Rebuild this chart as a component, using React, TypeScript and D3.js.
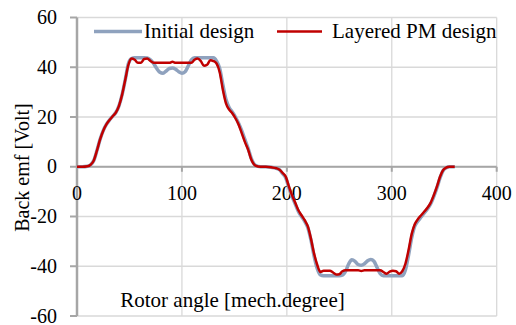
import React from "react";
import * as d3 from "d3";

const angles = [0,5,10,13,16,19,22,25,28,31,34,37,40,43,46,49,52,55,58,61,64,67,70,73,76,79,82,85,88,91,94,97,100,103,106,109,112,115,118,121,124,127,130,133,136,139,142,145,148,151,154,157,160,163,166,170,175,180,185,190,193,196,199,202,205,208,211,214,217,220,223,226,229,232,235,238,241,244,247,250,253,256,259,262,265,268,271,274,277,280,283,286,289,292,295,298,301,304,307,310,313,316,319,322,325,328,331,334,337,340,343,346,349,352,355,360];

const initialDesign = [0,0,0.2,0.8,2.5,6.5,11,14.5,17,18.8,20.3,21.8,24.5,29,35,41.5,43.5,43.8,43.8,43.8,43.8,43.7,43,41.5,39.5,38,37.6,38.5,39.5,39.7,39.2,38.2,37.6,38.2,40.5,43,43.8,43.8,43.8,43.8,43.8,43.8,43.8,42.5,39.5,33,27,23.8,22,20,17.5,14.5,11,7.5,3.5,0.6,0,0,-0.2,-0.6,-1.2,-2.8,-4.5,-8.5,-12,-15,-18,-20,-22,-24.5,-29.5,-36,-41,-43.5,-43.8,-43.8,-43.8,-43.8,-43.8,-43.8,-43.6,-42,-39,-37.4,-38,-39.3,-39.6,-39,-37.8,-37.3,-38,-40.5,-43,-43.8,-43.8,-43.8,-43.8,-43.8,-43.8,-43.8,-41.5,-35.5,-28.5,-23.8,-21.8,-20.2,-18.6,-17,-15,-12,-8.5,-4.5,-1.5,-0.4,0,0];

const layeredPM = [0,0,0.2,0.8,2.5,6.5,11,14.5,17,18.8,20.3,21.8,24.5,29,35,41,43.5,43,41.8,41.8,43.3,43.5,42.5,41.8,41.8,41.8,41.8,41.8,41.8,42.2,41.8,41.8,41.8,41.8,41.8,41.8,43,43.5,42.5,40.6,41,42.8,42.5,41.5,38,31,25.5,23,21.5,19.5,17,13.5,10,7,3,0.5,0,0,-0.2,-0.6,-1.2,-2.5,-4,-8,-11.5,-14.5,-17.5,-19.5,-21.5,-24,-29,-35,-39.5,-42.3,-41.8,-41.8,-41.8,-42.5,-43.3,-43.2,-42,-41.6,-41.6,-41.6,-41.6,-41.6,-41.9,-41.6,-41.6,-41.6,-41.6,-41.6,-41.6,-42.3,-43,-42.2,-41.8,-42,-43,-42,-39,-33.5,-27,-23,-21,-19.5,-18,-16.5,-14.5,-11.5,-8,-4,-1.3,-0.3,0,0];

const xTicks = [0, 100, 200, 300, 400];
const yTicks = [-60, -40, -20, 0, 20, 40, 60];
const seriesNames = ["Initial design", "Layered PM design"];
const xTitle = "Rotor angle [mech.degree]";
const yTitle = "Back emf [Volt]";

export default function App() {
  const W = 516, H = 325;
  const x = d3.scaleLinear().domain([0, 400]).range([77, 496.7]);
  const y = d3.scaleLinear().domain([-60, 60]).range([316, 17.5]);
  const ts = (size: number) => ({ fontFamily: '"Liberation Serif"', fontSize: size + "px" });

  const mk = (vals: number[]) =>
    d3.line<number>()
      .x((_, i) => x(angles[i]))
      .y((v) => y(v))
      .curve(d3.curveMonotoneX)(vals) || "";

  const gridColor = "#D9D9D9";
  const axisColor = "#A6A6A6";
  const blue = "#8FA2BE";
  const red = "#C00000";

  return (
    <svg width={W} height={H} style={{ position: "absolute", left: 0, top: 0, background: "#fff" }}>
      {yTicks.map((t) => (
        <line key={"gy" + t} x1={x(0)} x2={x(400)} y1={y(t)} y2={y(t)} stroke={gridColor} strokeWidth={1.3} />
      ))}
      {xTicks.filter((t) => t > 0).map((t) => (
        <line key={"gx" + t} x1={x(t)} x2={x(t)} y1={y(60)} y2={y(-60)} stroke={gridColor} strokeWidth={1.3} />
      ))}
      <line x1={x(0)} x2={x(400)} y1={y(0)} y2={y(0)} stroke={axisColor} strokeWidth={2} />
      {xTicks.map((t) => (
        <line key={"tx" + t} x1={x(t)} x2={x(t)} y1={y(0)} y2={y(0) + 5} stroke={axisColor} strokeWidth={2} />
      ))}
      <line x1={x(0)} x2={x(0)} y1={y(60)} y2={y(-60)} stroke={axisColor} strokeWidth={2.5} />
      {yTicks.map((t) => (
        <line key={"ty" + t} x1={x(0) - 7} x2={x(0)} y1={y(t)} y2={y(t)} stroke={axisColor} strokeWidth={2} />
      ))}
      {yTicks.map((t) => (
        <text key={"ly" + t} x={57} y={y(t) + 6.5} textAnchor="end" style={ts(20)}>
          {String(t)}
        </text>
      ))}
      {xTicks.map((t) => (
        <text key={"lx" + t} x={x(t)} y={200} textAnchor="middle" style={ts(20)}>
          {String(t)}
        </text>
      ))}
      <path d={mk(initialDesign)} fill="none" stroke={blue} strokeWidth={3.5} strokeLinejoin="round" />
      <path d={mk(layeredPM)} fill="none" stroke={red} strokeWidth={2.5} strokeLinejoin="round" />
      <text x={232.5} y={307} textAnchor="middle" style={ts(21)}>{xTitle}</text>
      <text transform="translate(29,167.5) rotate(-90)" textAnchor="middle" style={ts(20)}>{yTitle}</text>
      <line x1={94} x2={142} y1={31.5} y2={31.5} stroke={blue} strokeWidth={3.5} />
      <text x={144} y={37.5} style={ts(21)}>{seriesNames[0]}</text>
      <line x1={277} x2={322} y1={31.5} y2={31.5} stroke={red} strokeWidth={2.5} />
      <text x={332} y={37.5} style={ts(21)}>{seriesNames[1]}</text>
    </svg>
  );
}
